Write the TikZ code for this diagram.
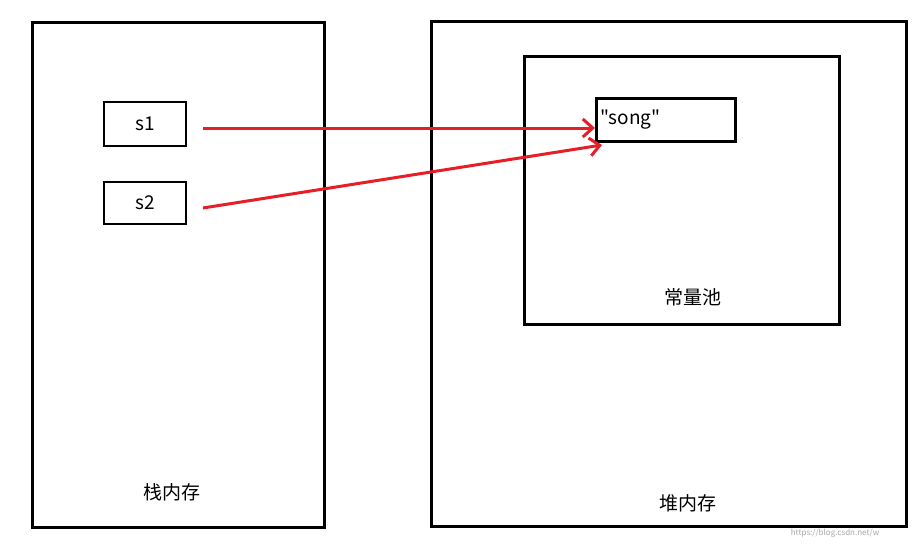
\documentclass[tikz,border=0pt]{standalone}
\usepackage{fontspec}
\setmainfont[Ligatures=TeXOff]{Noto Sans CJK SC}
\usetikzlibrary{arrows.meta}
\begin{document}
\begin{tikzpicture}[x=1pt,y=-1pt,
  box/.style={draw=black,line width=3pt},
  lbl/.style={font=\fontsize{19}{22}\selectfont},
  ptr/.style={draw={rgb,255:red,230;green,30;blue,40},line width=3pt,-{Straight Barb[length=10pt,width=18pt,line width=3pt]}}]
\useasboundingbox (0,0) rectangle (924,546);
\draw[box] (32,22) rectangle (324,527);
\draw[box] (431,21) rectangle (906,526);
\draw[box] (524,56) rectangle (839,324);
\node[box,minimum width=82pt,minimum height=44pt,inner sep=0pt,lbl,line width=2.5pt] (s1) at (145,124) {s1};
\node[box,minimum width=82pt,minimum height=42pt,inner sep=0pt,lbl,line width=2.5pt] (s2) at (145,203) {s2};
\node[box,minimum width=139pt,minimum height=43pt,inner sep=4pt,lbl,anchor=west,align=left,text width=131pt,line width=2.5pt] (song) at (595,120) {\char34 song\char34};
\node[lbl] (stack) at (172,492) {栈内存};
\node[lbl] (heap) at (688,503) {堆内存};
\node[lbl] (pool) at (693,297) {常量池};
\node[font=\fontsize{8}{9}\selectfont,text=gray!70] (wm) at (835,533) {https://blog.csdn.net/w};
\coordinate (a1) at (203,128);
\coordinate (b1) at (595,128);
\coordinate (a2) at (203,208);
\coordinate (b2) at (602,145);
\draw[ptr] (a1) -- (b1);
\draw[ptr] (a2) -- (b2);
\end{tikzpicture}
\end{document}
